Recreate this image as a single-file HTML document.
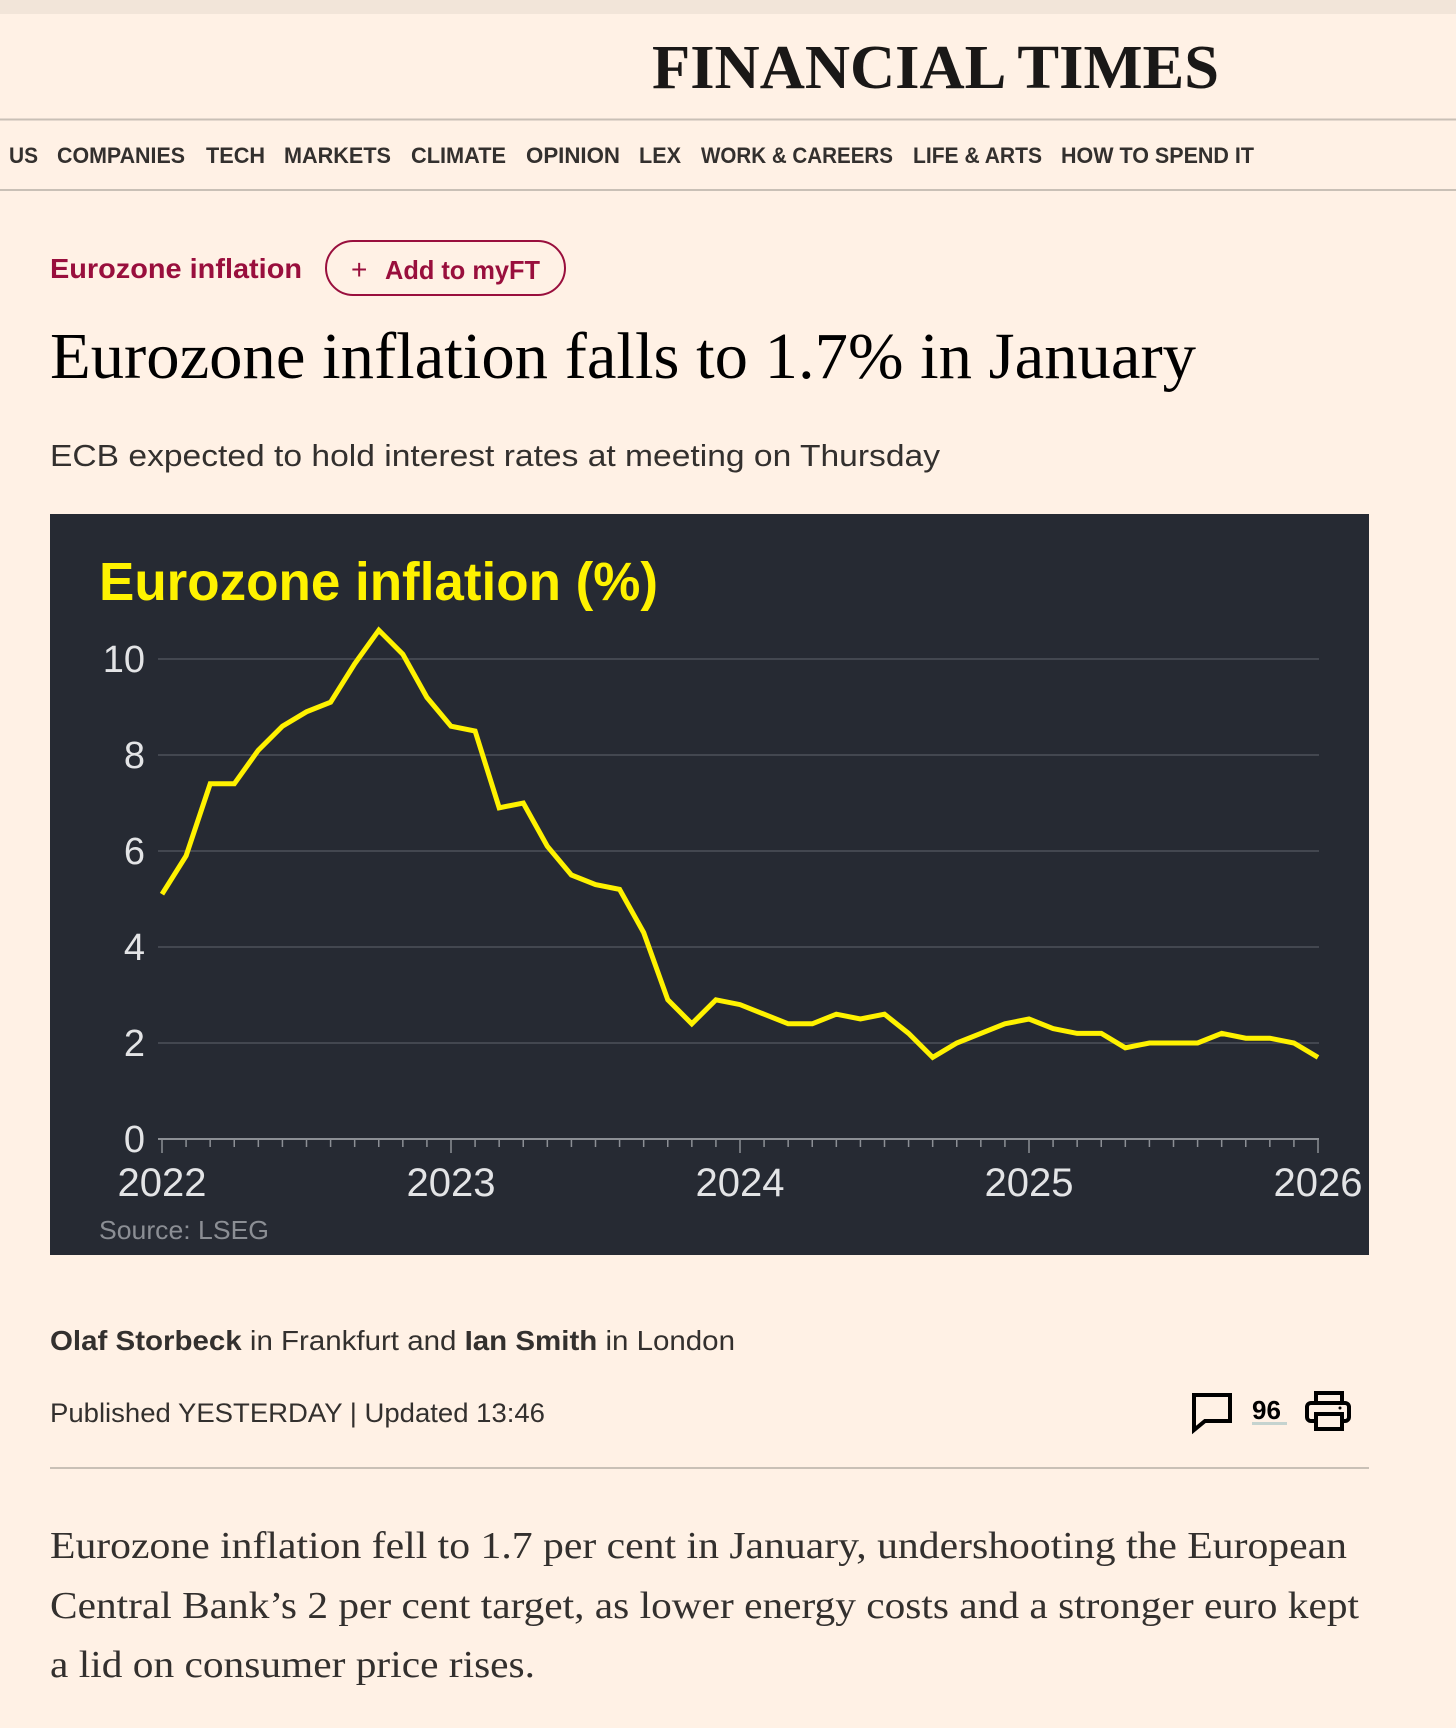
<!DOCTYPE html>
<html><head><meta charset="utf-8"><style>
html,body{margin:0;padding:0;background:#fff1e5;}
svg{display:block;}
</style></head><body>
<svg width="1456" height="1728" viewBox="0 0 1456 1728" xmlns="http://www.w3.org/2000/svg">
<rect x="0" y="0" width="1456" height="1728" fill="#fff1e5"/>
<rect x="0" y="0" width="1456" height="14" fill="#f2e5d9"/>
<text x="652" y="88" font-family="Liberation Serif, serif" font-size="62" font-weight="bold" fill="#1a1817" textLength="567" lengthAdjust="spacingAndGlyphs">FINANCIAL TIMES</text>
<line x1="0" y1="119.5" x2="1456" y2="119.5" stroke="#c9c0b6" stroke-width="2"/>
<g font-family="Liberation Sans, sans-serif" font-size="22" font-weight="bold" fill="#33302e">
<text x="9" y="163" textLength="29" lengthAdjust="spacingAndGlyphs">US</text>
<text x="57" y="163" textLength="128" lengthAdjust="spacingAndGlyphs">COMPANIES</text>
<text x="206" y="163" textLength="59" lengthAdjust="spacingAndGlyphs">TECH</text>
<text x="284" y="163" textLength="107" lengthAdjust="spacingAndGlyphs">MARKETS</text>
<text x="411" y="163" textLength="95" lengthAdjust="spacingAndGlyphs">CLIMATE</text>
<text x="526" y="163" textLength="94" lengthAdjust="spacingAndGlyphs">OPINION</text>
<text x="639" y="163" textLength="42" lengthAdjust="spacingAndGlyphs">LEX</text>
<text x="701" y="163" textLength="192" lengthAdjust="spacingAndGlyphs">WORK &amp; CAREERS</text>
<text x="913" y="163" textLength="129" lengthAdjust="spacingAndGlyphs">LIFE &amp; ARTS</text>
<text x="1061" y="163" textLength="193" lengthAdjust="spacingAndGlyphs">HOW TO SPEND IT</text>
</g>
<line x1="0" y1="190" x2="1456" y2="190" stroke="#c9c0b6" stroke-width="2"/>
<text x="50" y="278" font-family="Liberation Sans, sans-serif" font-size="28" font-weight="bold" fill="#990f3d" textLength="252" lengthAdjust="spacingAndGlyphs">Eurozone inflation</text>
<g>
<rect x="326" y="241" width="239" height="54" rx="27" fill="none" stroke="#990f3d" stroke-width="2"/>
<text x="351" y="279" font-family="Liberation Sans, sans-serif" font-size="28" fill="#990f3d">+</text>
<text x="385" y="279" font-family="Liberation Sans, sans-serif" font-size="26" font-weight="bold" fill="#990f3d" textLength="155" lengthAdjust="spacingAndGlyphs">Add to myFT</text>
</g>
<text x="50" y="378" font-family="Liberation Serif, serif" font-size="66" fill="#000" textLength="1146" lengthAdjust="spacingAndGlyphs">Eurozone inflation falls to 1.7% in January</text>
<text x="50" y="466" font-family="Liberation Sans, sans-serif" font-size="31" fill="#33302e" textLength="890" lengthAdjust="spacingAndGlyphs">ECB expected to hold interest rates at meeting on Thursday</text>

<g id="chart">
<rect x="50" y="514" width="1319" height="741" fill="#262a33"/>
<text x="99" y="600" font-family="Liberation Sans, sans-serif" font-size="54" font-weight="bold" fill="#fff200" textLength="559" lengthAdjust="spacingAndGlyphs">Eurozone inflation (%)</text>
<g id="grid"></g>
<g id="xaxis"></g>
<g id="series"></g>
<text x="99" y="1239" font-family="Liberation Sans, sans-serif" font-size="26" fill="#8b8e94" textLength="170" lengthAdjust="spacingAndGlyphs">Source: LSEG</text>
</g>

<text x="50" y="1350" font-family="Liberation Sans, sans-serif" font-size="28" fill="#33302e" textLength="685" lengthAdjust="spacingAndGlyphs"><tspan font-weight="bold">Olaf Storbeck</tspan> in Frankfurt and <tspan font-weight="bold">Ian Smith</tspan> in London</text>
<text x="50" y="1422" font-family="Liberation Sans, sans-serif" font-size="27" fill="#33302e" textLength="495" lengthAdjust="spacingAndGlyphs">Published YESTERDAY | Updated 13:46</text>
<g>
<path d="M1194,1395 H1230 V1421 H1205 L1194,1430 Z" fill="none" stroke="#000" stroke-width="4" stroke-linejoin="miter"/>
<text x="1252" y="1419" font-family="Liberation Sans, sans-serif" font-size="26" font-weight="bold" fill="#000">96</text>
<rect x="1252" y="1422" width="35" height="3" fill="#c5d3cf"/>
</g>
<g fill="none" stroke="#000" stroke-width="4">
<rect x="1316" y="1393" width="26" height="10"/>
<rect x="1307" y="1403" width="42" height="18" rx="4"/>
<rect x="1316" y="1414" width="26" height="15" fill="#fff1e5"/>
<circle cx="1340" cy="1408" r="1.5" fill="#000" stroke="none"/>
</g>
<line x1="50" y1="1468" x2="1369" y2="1468" stroke="#c9c0b6" stroke-width="2"/>
<g font-family="Liberation Serif, serif" font-size="38" fill="#33302e">
<text x="50" y="1558" textLength="1297" lengthAdjust="spacingAndGlyphs">Eurozone inflation fell to 1.7 per cent in January, undershooting the European</text>
<text x="50" y="1618" textLength="1309" lengthAdjust="spacingAndGlyphs">Central Bank’s 2 per cent target, as lower energy costs and a stronger euro kept</text>
<text x="50" y="1677" textLength="485" lengthAdjust="spacingAndGlyphs">a lid on consumer price rises.</text>
</g>
</svg>
<script>
const years = ['2022','2023','2024','2025','2026'];
const yTicks = [0,2,4,6,8,10];
const inflation = [5.1,5.9,7.4,7.4,8.1,8.6,8.9,9.1,9.9,10.6,10.1,9.2,
  8.6,8.5,6.9,7.0,6.1,5.5,5.3,5.2,4.3,2.9,2.4,2.9,
  2.8,2.6,2.4,2.4,2.6,2.5,2.6,2.2,1.7,2.0,2.2,2.4,
  2.5,2.3,2.2,2.2,1.9,2.0,2.0,2.0,2.2,2.1,2.1,2.0,
  1.7];

const NS='http://www.w3.org/2000/svg';
const X0=162, X1=1318, Y0=1139, PER2=96;
const nMonths=(years.length-1)*12;
function xScale(m){return X0+(X1-X0)*m/nMonths;}
function yScale(v){return Y0-v*PER2/2;}
function mk(tag,attrs,parent){const e=document.createElementNS(NS,tag);for(const k in attrs)e.setAttribute(k,attrs[k]);parent.appendChild(e);return e;}

const grid=document.getElementById('grid');
yTicks.forEach(v=>{
  const y=yScale(v);
  if(v>0){
    const l=mk('line',{x1:158,x2:1319,y1:y,y2:y,stroke:'#4d515a','stroke-width':1.5},grid);
    
    
  }
  const t=mk('text',{x:145,y:y+13,'text-anchor':'end','font-family':'Liberation Sans, sans-serif','font-size':38,fill:'#e3e4e6'},grid);
  t.textContent=v;
  
  
});
const xa=document.getElementById('xaxis');
const axis=mk('line',{x1:158,x2:1319,y1:Y0,y2:Y0,stroke:'#8c8f95','stroke-width':2},xa);


for(let m=0;m<=nMonths;m++){
  const x=xScale(m);
  const tk=mk('line',{x1:x,x2:x,y1:Y0,y2:Y0+(m%12===0?14:8),stroke:'#8c8f95','stroke-width':1.5},xa);
  
  
}
years.forEach((yr,i)=>{
  const t=mk('text',{x:xScale(i*12),y:1196,'text-anchor':'middle','font-family':'Liberation Sans, sans-serif','font-size':40,fill:'#e3e4e6'},xa);
  t.textContent=yr;
  
  
});
const pts=inflation.map((v,i)=>xScale(i).toFixed(1)+','+yScale(v).toFixed(1)).join(' ');
const line=mk('polyline',{points:pts,fill:'none',stroke:'#fff200','stroke-width':5,'stroke-linejoin':'miter'},document.getElementById('series'));


</script>
</body></html>
